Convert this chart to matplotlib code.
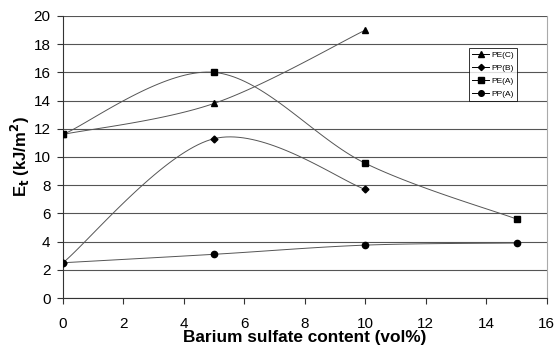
import numpy as np
import matplotlib
matplotlib.use('Agg')
import matplotlib.pyplot as plt

plt.rcParams['font.family'] = ['Liberation Sans', 'DejaVu Sans']

# Data
pe_c_x = [0, 5, 10]
pe_c_y = [11.6, 13.8, 19.0]
pp_b_x = [0, 5, 10]
pp_b_y = [2.5, 11.3, 7.7]
pe_a_x = [0, 5, 10, 15]
pe_a_y = [11.6, 16.0, 9.55, 5.6]
pp_a_x = [0, 5, 10, 15]
pp_a_y = [2.5, 3.1, 3.75, 3.9]


def smooth(xs, ys, n=40):
    # Excel-like smoothed line: cubic Bezier through points, tangents from neighbours
    p = np.column_stack([xs, ys]).astype(float)
    out = []
    for i in range(len(p) - 1):
        p0 = p[max(i - 1, 0)]
        p1 = p[i]
        p2 = p[i + 1]
        p3 = p[min(i + 2, len(p) - 1)]
        c1 = p1 + (p2 - p0) / 6
        c2 = p2 - (p3 - p1) / 6
        t = np.linspace(0, 1, n)[:, None]
        seg = ((1 - t) ** 3) * p1 + 3 * ((1 - t) ** 2) * t * c1 + 3 * (1 - t) * t ** 2 * c2 + t ** 3 * p2
        out.append(seg)
    seg = np.vstack(out)
    return seg[:, 0], seg[:, 1]


fig = plt.figure(figsize=(5.54, 3.47), dpi=100)
ax = fig.add_axes([0.1137, 0.1412, 0.8733, 0.8128])

series = [
    (pe_c_x, pe_c_y, '^', 'PE(C)', 5),
    (pp_b_x, pp_b_y, 'D', 'PP(B)', 3.5),
    (pe_a_x, pe_a_y, 's', 'PE(A)', 5),
    (pp_a_x, pp_a_y, 'o', 'PP(A)', 4.5),
]

handles = []
for xs, ys, m, lab, ms in series:
    sx, sy = smooth(xs, ys)
    ax.plot(sx, sy, color='#555555', lw=0.7, zorder=2)
    ax.plot(xs, ys, linestyle='none', marker=m, color='black', ms=ms, zorder=3)
    h, = ax.plot([], [], color='black', lw=0.7, marker=m, ms=ms * 0.9, label=lab)
    handles.append(h)

ax.set_xlim(0, 16)
ax.set_ylim(0, 20)
ax.set_xticks(range(0, 17, 2))
ax.set_yticks(range(0, 21, 2))
ax.yaxis.grid(True, color='#555555', lw=0.8)
ax.set_axisbelow(True)

ax.spines['top'].set_visible(False)
ax.spines['right'].set_color('#aaaaaa')
ax.spines['left'].set_color('#333333')
ax.spines['bottom'].set_color('#333333')
ax.tick_params(direction='out', length=4, width=0.8, labelsize=11, color='#333333')
ax.tick_params(axis='x', pad=10)
ax.tick_params(axis='y', pad=5)

ax.set_xlabel('Barium sulfate content (vol%)', fontsize=12.4, fontweight='bold', labelpad=-1)
ax.set_ylabel(r'E$_\mathbf{t}$ (kJ/m$^\mathbf{2}$)', fontsize=12, fontweight='bold', labelpad=1)

leg = ax.legend(handles=handles, loc='upper left', bbox_to_anchor=(0.84, 0.887),
                fontsize=6, frameon=True, fancybox=False, edgecolor='black',
                borderpad=0.35, handlelength=2.0, handletextpad=0.3, labelspacing=0.65,
                borderaxespad=0)
leg.get_frame().set_linewidth(0.7)

fig.savefig('out.png', dpi=100)
